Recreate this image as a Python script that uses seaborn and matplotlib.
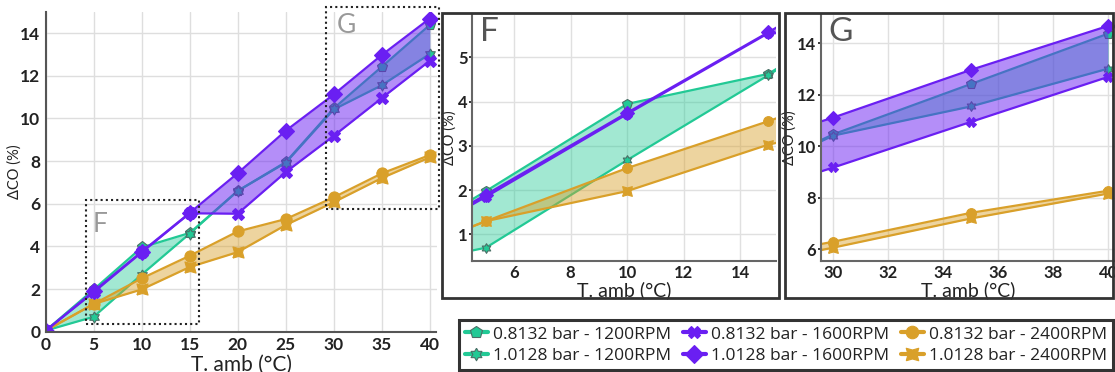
import numpy as np
import pandas as pd
import matplotlib
matplotlib.use("Agg")
import matplotlib.pyplot as plt
import seaborn as sns
from matplotlib.lines import Line2D
from matplotlib.patches import Rectangle

sns.set_theme(style="whitegrid")
plt.rcParams['font.family'] = ['Lato', 'DejaVu Sans']

# ---------------- data ----------------
T = [0, 5, 10, 15, 20, 25, 30, 35, 40]
co_0813_1200 = [0.05, 1.98, 3.95, 4.63, 6.6, 7.95, 10.47, 12.42, 14.38]
co_1013_1200 = [0.05, 0.70, 2.68, 4.60, 6.6, 7.92, 10.42, 11.55, 13.02]
co_0813_1600 = [0.05, 1.85, 3.72, 5.55, 5.53, 7.48, 9.18, 10.95, 12.70]
co_1013_1600 = [0.05, 1.90, 3.75, 5.57, 7.43, 9.42, 11.12, 12.97, 14.68]
co_0813_2400 = [0.05, 1.30, 2.50, 3.56, 4.70, 5.28, 6.30, 7.42, 8.28]
co_1013_2400 = [0.05, 1.30, 1.98, 3.03, 3.73, 5.00, 6.07, 7.20, 8.17]

labels = ["0.8132 bar - 1200RPM", "1.0128 bar - 1200RPM",
          "0.8132 bar - 1600RPM", "1.0128 bar - 1600RPM",
          "0.8132 bar - 2400RPM", "1.0128 bar - 2400RPM"]
values = [co_0813_1200, co_1013_1200, co_0813_1600, co_1013_1600,
          co_0813_2400, co_1013_2400]

GREEN = "#22c995"
PURPLE = "#6a1ff2"
ORANGE = "#d9a02a"

# marker shapes
concave_sq = [(-1, -1), (0, -0.72), (1, -1), (0.72, 0), (1, 1), (0, 0.72),
              (-1, 1), (-0.72, 0), (-1, -1)]
_ang = np.deg2rad(np.arange(90, 450, 30))
_rad = np.tile([1.0, 0.58], 6)
hexstar = [(r * np.cos(a), r * np.sin(a)) for r, a in zip(_rad, _ang)]
hexstar.append(hexstar[0])

colors = {labels[0]: GREEN, labels[1]: GREEN, labels[2]: PURPLE,
          labels[3]: PURPLE, labels[4]: ORANGE, labels[5]: ORANGE}
markers = {labels[0]: "p", labels[1]: hexstar, labels[2]: "X",
           labels[3]: "D", labels[4]: "o", labels[5]: concave_sq}
edges = {GREEN: "#4a6f66", PURPLE: PURPLE, ORANGE: ORANGE}

df = pd.DataFrame({
    "T": np.tile(T, 6),
    "dCO": np.concatenate(values),
    "series": np.repeat(labels, len(T)),
})

groups = [(labels[0], labels[1], GREEN, 0.42),
          (labels[4], labels[5], ORANGE, 0.45),
          (labels[2], labels[3], PURPLE, 0.50)]


def draw(ax, ms):
    for a, b, col, alpha in groups:
        ya = df[df.series == a].dCO.values
        yb = df[df.series == b].dCO.values
        ax.fill_between(T, ya, yb, color=col, alpha=alpha, lw=0, zorder=2)
        sub = df[df.series.isin([a, b])]
        sns.lineplot(data=sub, x="T", y="dCO", hue="series", style="series",
                     palette={a: col, b: col},
                     markers={a: markers[a], b: markers[b]}, dashes=False,
                     markersize=ms, markeredgecolor=edges[col],
                     markeredgewidth=0.8, lw=1.6, legend=False, ax=ax,
                     zorder=2)


fig = plt.figure(figsize=(11.15, 3.72), dpi=100)

# ---------------- main axes ----------------
ax = fig.add_axes([45.7 / 1115, 1 - 331.7 / 372, 390.8 / 1115, 320 / 372])
draw(ax, 8)
ax.set_xlim(0, 40.7)
ax.set_ylim(0, 15)
ax.set_xticks(range(0, 41, 5))
ax.set_yticks(range(0, 15, 2))
ax.grid(True, color="#dedede", lw=1)
for s in ["top", "right"]:
    ax.spines[s].set_visible(False)
for s in ["left", "bottom"]:
    ax.spines[s].set_color("#555555")
    ax.spines[s].set_linewidth(1.5)
ax.tick_params(length=0, labelsize=12.5, pad=4, colors="#222222")
for t in ax.get_xticklabels() + ax.get_yticklabels():
    t.set_fontweight("bold")
ax.set_xlabel("T. amb (°C)", fontsize=15, labelpad=1, color="#222222")
ax.set_ylabel("ΔCO (%)", fontsize=10.5, color="#222222")
ax.yaxis.set_label_coords(-0.061, 0.5)
# zoom boxes
ax.add_patch(Rectangle((4.2, 0.36), 11.8, 5.82, fill=False, ls=(0, (1, 1.5)),
                       lw=1.5, ec="#222222", zorder=5, clip_on=False))
ax.add_patch(Rectangle((29.2, 5.75), 11.8, 9.45, fill=False, ls=(0, (1, 1.5)),
                       lw=1.5, ec="#222222", zorder=5, clip_on=False))
ax.text(4.9, 5.6, "F", fontsize=19, color="#999999", va="top", ha="left")
ax.text(30.3, 14.95, "G", fontsize=19, color="#999999", va="top", ha="left",
        clip_on=False)


def style_inset(a, letter, lx):
    a.grid(True, color="#e0e0e0", lw=1)
    for s in ["top", "right"]:
        a.spines[s].set_visible(False)
    for s in ["left", "bottom"]:
        a.spines[s].set_color("#666666")
        a.spines[s].set_linewidth(1.5)
    a.tick_params(axis="x", length=0, labelsize=12, pad=3, colors="#222222")
    a.tick_params(axis="y", length=2, labelsize=12, pad=1.5, colors="#222222",
                  left=True)
    for t in a.get_xticklabels() + a.get_yticklabels():
        t.set_fontweight("bold")
    a.set_xlabel("T. amb (°C)", fontsize=14, labelpad=0, color="#222222")
    a.set_ylabel("ΔCO (%)", fontsize=10.5, color="#222222")
    a.yaxis.set_label_coords(lx, 0.5)
    a.text(0.025, 0.99, letter, transform=a.transAxes, fontsize=24,
           color="#555555", va="top", ha="left")


# ---------------- inset F ----------------
axF = fig.add_axes([472.3 / 1115, 1 - 261 / 372, 303.7 / 1115, 246 / 372])
draw(axF, 7)
axF.set_xlim(4.52, 15.27)
axF.set_ylim(0.4, 5.96)
axF.set_xticks([6, 8, 10, 12, 14])
axF.set_yticks([1, 2, 3, 4, 5])
style_inset(axF, "F", -0.050)

# ---------------- inset G ----------------
axG = fig.add_axes([820.7 / 1115, 1 - 261 / 372, 294.3 / 1115, 246 / 372])
draw(axG, 7)
axG.set_xlim(29.54, 40.24)
axG.set_ylim(5.55, 15.1)
axG.set_xticks([30, 32, 34, 36, 38, 40])
axG.set_yticks([6, 8, 10, 12, 14])
style_inset(axG, "G", -0.082)

# frames around insets
for x0, x1 in [(442, 778.5), (785, 1113)]:
    fig.add_artist(Rectangle((x0 / 1115, 1 - 298 / 372), (x1 - x0) / 1115,
                             285 / 372, transform=fig.transFigure, fill=False,
                             ec="#333333", lw=2))

# ---------------- legend ----------------
handles = []
for lab in labels:
    col = colors[lab]
    handles.append(Line2D([], [], color=col, marker=markers[lab], lw=3,
                          markersize=9, markeredgecolor=edges[col],
                          markeredgewidth=0.8))
leg = fig.legend(handles, labels, ncol=3, loc="lower left",
                 bbox_to_anchor=(459 / 1115, 2 / 372, 654 / 1115, 59 / 372),
                 mode="expand", frameon=True, fancybox=False,
                 handlelength=1.3, handletextpad=0.3, columnspacing=0.6,
                 borderpad=0.35, labelspacing=0.3, borderaxespad=0,
                 prop={"family": ["Open Sans", "DejaVu Sans"], "size": 12.5})
leg.get_frame().set_edgecolor("black")
leg.get_frame().set_linewidth(2.2)
for t in leg.get_texts():
    t.set_color("#222222")

fig.savefig("out.png", dpi=100)
